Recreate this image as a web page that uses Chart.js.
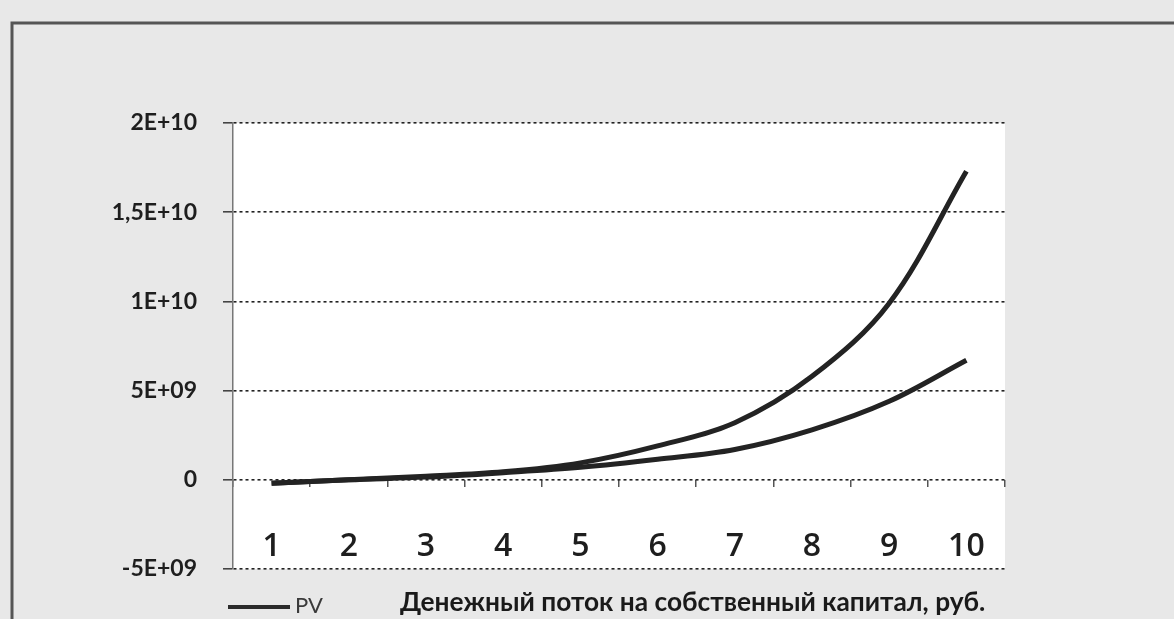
<!DOCTYPE html>
<html>
<head>
<meta charset="utf-8">
<script src="https://cdn.jsdelivr.net/npm/chart.js@4"></script>
<style>
  html, body { margin: 0; padding: 0; background: #e8e8e8; }
  #wrap { width: 1174px; height: 619px; position: relative; }
</style>
</head>
<body>
<div id="wrap"><canvas id="chart" width="1174" height="619"></canvas></div>
<script>
// годы прогноза
const years = ["1", "2", "3", "4", "5", "6", "7", "8", "9", "10"];
// денежный поток на собственный капитал, руб.
const cashFlow = [-0.2e9, 0.0e9, 0.2e9, 0.45e9, 0.95e9, 1.9e9, 3.2e9, 5.8e9, 9.9e9, 17.3e9];
// дисконтированная стоимость
const pv = [-0.2e9, 0.0e9, 0.15e9, 0.4e9, 0.7e9, 1.15e9, 1.7e9, 2.8e9, 4.4e9, 6.7e9];
// подписи оси значений
const yTickLabels = { "20000000000": "2E+10", "15000000000": "1,5E+10", "10000000000": "1E+10",
                      "5000000000": "5E+09", "0": "0", "-5000000000": "-5E+09" };

const cashLabel = "Денежный поток на собственный капитал, руб.";
const pvLabel = "PV";

const frame = {
    id: "frame",
    beforeDraw(chart) {
        const ctx = chart.ctx, a = chart.chartArea;
        ctx.save();
        ctx.fillStyle = "#e8e8e8";
        ctx.fillRect(0, 0, chart.width, chart.height);
        ctx.strokeStyle = "#555";
        ctx.lineWidth = 3;
        ctx.beginPath();
        ctx.moveTo(12, 619); ctx.lineTo(12, 23); ctx.lineTo(1174, 23);
        ctx.stroke();
        ctx.fillStyle = "#ffffff";
        ctx.fillRect(a.left, a.top, a.right - a.left, a.bottom - a.top);
        ctx.restore();
    },
    afterDraw(chart) {
        // легенда внизу
        const ctx = chart.ctx;
        ctx.save();
        ctx.strokeStyle = "#2b2b2b";
        ctx.lineWidth = 4;
        ctx.beginPath(); ctx.moveTo(228, 607); ctx.lineTo(290, 607); ctx.stroke();
        ctx.fillStyle = "#3a3a3a";
        ctx.font = "22px Lato";
        ctx.textBaseline = "middle";
        ctx.fillText(pvLabel, 295, 606);
        ctx.fillStyle = "#1a1a1a";
        let size = 24;
        ctx.font = "bold " + size + "px Lato";
        size = size * 585 / ctx.measureText(cashLabel).width;
        ctx.font = "bold " + size.toFixed(1) + "px Lato";
        ctx.fillText(cashLabel, 400, 603);
        ctx.restore();
    }
};

new Chart(document.getElementById("chart"), {
    type: "line",
    data: {
        labels: years,
        datasets: [
            { label: cashLabel, data: cashFlow, borderColor: "#232323", borderWidth: 5,
              pointRadius: 0, tension: 0.35, fill: false },
            { label: pvLabel, data: pv, borderColor: "#232323", borderWidth: 5,
              pointRadius: 0, tension: 0.35, fill: false }
        ]
    },
    options: {
        responsive: false,
        animation: false,
        layout: { padding: { left: 12, right: 169, top: 123, bottom: 50 } },
        plugins: { legend: { display: false }, tooltip: { enabled: false } },
        scales: {
            x: {
                position: { y: 0 },
                offset: true,
                grid: { offset: true, drawOnChartArea: false, drawTicks: true, tickLength: 7,
                        tickColor: "#555", lineWidth: 1.5 },
                border: { display: false },
                ticks: { color: "#1e1e1e", font: { family: "Open Sans", size: 32, weight: "600" },
                         padding: 41, maxRotation: 0, autoSkip: false }
            },
            y: {
                min: -5e9, max: 2e10,
                grid: { color: "#222", lineWidth: 1.6, tickLength: 10, tickColor: "#444" },
                border: { display: true, color: "#777", width: 1.5, dash: [3, 3] },
                ticks: {
                    stepSize: 5e9, color: "#1e1e1e", padding: 26,
                    font: { family: "Lato", size: 23, weight: "bold" },
                    callback: v => yTickLabels[String(v)]
                },
                afterFit: s => { s.width = 221; }
            }
        }
    },
    plugins: [frame]
});
</script>
</body>
</html>
